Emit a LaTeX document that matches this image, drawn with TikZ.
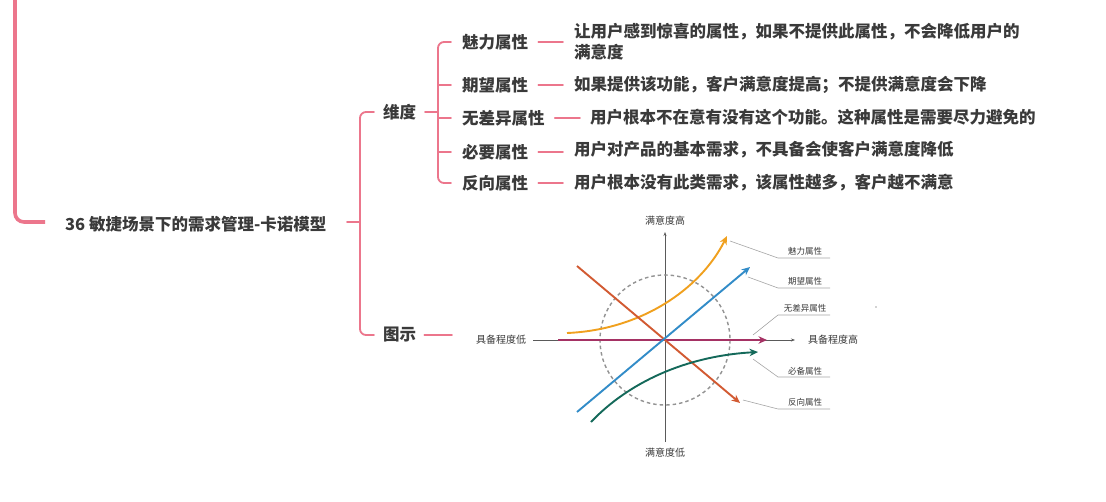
\documentclass[tikz,border=0pt]{standalone}
\usepackage{fontspec}
\setmainfont{Noto Sans CJK SC}
\usetikzlibrary{arrows.meta}
\definecolor{mmpink}{RGB}{236,118,140}
\definecolor{mmtext}{RGB}{58,58,58}
\definecolor{axisgray}{RGB}{90,90,90}
\definecolor{leadgray}{RGB}{165,165,165}
\definecolor{cOrange}{RGB}{240,160,30}
\definecolor{cBlue}{RGB}{50,140,200}
\definecolor{cRed}{RGB}{210,90,50}
\definecolor{cTeal}{RGB}{20,105,90}
\definecolor{cMag}{RGB}{165,50,100}
\tikzset{
  pinkline/.style={draw=mmpink, line width=1.8pt, line cap=round},
  mmlabel/.style={inner sep=0pt, font=\fontsize{16.5}{21}\selectfont\bfseries, text=mmtext, anchor=west, align=left},
  dlabel/.style={inner sep=0pt, font=\fontsize{10}{12}\selectfont, text=mmtext},
  slabel/.style={inner sep=0pt, font=\fontsize{8.5}{10}\selectfont, text=mmtext},
  axisline/.style={draw=axisgray, line width=0.7pt, -{Stealth[length=4pt,width=3pt]}},
  curvearrow/.style={line width=1.9pt, -{Stealth[length=8.5pt,width=7.5pt]}},
  leader/.style={draw=leadgray, line width=0.6pt},
}
\begin{document}
\begin{tikzpicture}[x=1pt,y=-1pt]
\useasboundingbox[fill=white] (0,0) rectangle (1106,501);

% root
\coordinate (ltop) at (15,-3);
\coordinate (lend) at (45,222);
\node[mmlabel] (root) at (65,224) {36 敏捷场景下的需求管理-卡诺模型};
\draw[draw=mmpink, line width=3.6pt, rounded corners=9pt] (ltop) |- (lend);

% level 1
\node[mmlabel] (dim) at (383,112) {维度};
\node[mmlabel] (fig) at (383,335) {图示};
\coordinate (rootout) at (347,222);
\coordinate (b1x) at (360,222);
\draw[pinkline] (rootout) -- (b1x);
\draw[pinkline, rounded corners=6pt] (374,112) -- (360,112) -- (360,335) -- (374,335);

% level 2
\coordinate (dimout) at (425,112);
\coordinate (b2x) at (438,112);
\draw[pinkline] (dimout) -- (b2x);
\draw[pinkline, rounded corners=6pt] (451,42) -- (438,42) -- (438,183) -- (451,183);
\draw[pinkline] (438,85) -- (451,85);
\draw[pinkline] (438,118) -- (451,118);
\draw[pinkline] (438,152) -- (451,152);

\node[mmlabel] (a1) at (462,42) {魅力属性};
\node[mmlabel] (a2) at (462,85) {期望属性};
\node[mmlabel] (a3) at (462,118) {无差异属性};
\node[mmlabel] (a4) at (462,152) {必要属性};
\node[mmlabel] (a5) at (462,183) {反向属性};

\node[mmlabel] (d1) at (574,41.5) {让用户感到惊喜的属性，如果不提供此属性，不会降低用户的\\满意度};
\node[mmlabel] (d2) at (574,85) {如果提供该功能，客户满意度提高；不提供满意度会下降};
\node[mmlabel] (d3) at (590,117) {用户根本不在意有没有这个功能。这种属性是需要尽力避免的};
\node[mmlabel] (d4) at (574,150) {用户对产品的基本需求，不具备会使客户满意度降低};
\node[mmlabel] (d5) at (574,183) {用户根本没有此类需求，该属性越多，客户越不满意};

\draw[pinkline] ([xshift=10pt]a1.east |- a1.center) -- ([xshift=-11pt]d1.west |- a1.center);
\draw[pinkline] ([xshift=10pt]a2.east) -- ([xshift=-11pt]d2.west |- a2.center);
\draw[pinkline] ([xshift=10pt]a3.east) -- ([xshift=-10pt]d3.west |- a3.center);
\draw[pinkline] ([xshift=10pt]a4.east |- a4.center) -- ([xshift=-11pt]d4.west |- a4.center);
\draw[pinkline] ([xshift=10pt]a5.east) -- ([xshift=-11pt]d5.west |- a5.center);

\draw[pinkline] ([xshift=8pt]fig.east) -- (452,335);

% Kano diagram
\coordinate (O) at (665,340);
\node[dlabel] (xlow) at (501,340) {具备程度低};
\node[dlabel] (xhigh) at (833,340) {具备程度高};
\node[dlabel] (yhigh) at (665,221) {满意度高};
\node[dlabel] (ylow) at (665,453) {满意度低};
\draw[axisline] (533,340) -- (795,340);
\draw[axisline] (665,442) -- (665,232);
\draw[draw=gray!85, line width=1.4pt, dash pattern=on 3.5pt off 3pt] (O) circle[radius=65];

\coordinate (mS) at (558,340); \coordinate (mE) at (767,340);
\coordinate (oS) at (567,333); \coordinate (oE) at (727,236);
\coordinate (bS) at (577,412); \coordinate (bE) at (750,267);
\coordinate (rS) at (577,266); \coordinate (rE) at (740,403);
\coordinate (tS) at (591,422); \coordinate (tE) at (758,352);

\draw[curvearrow, cOrange] (oS) .. controls (640,330) and (700,290) .. (oE);
\draw[curvearrow, cMag] (mS) -- (mE);
\draw[curvearrow, cRed] (rS) -- (rE);
\draw[curvearrow, cBlue] (bS) -- (bE);
\draw[curvearrow, cTeal] (tS) .. controls (628,383) and (685,356) .. (tE);

\node[slabel] (k1) at (805,251) {魅力属性};
\node[slabel] (k2) at (805,281) {期望属性};
\node[slabel] (k3) at (805,308) {无差异属性};
\node[slabel] (k4) at (805,371) {必备属性};
\node[slabel] (k5) at (805,402) {反向属性};

\draw[leader] (730,241) -- (778,258) -- (830,258);
\draw[leader] (748,277) -- (778,288) -- (830,288);
\draw[leader] (753,335) -- (778,315) -- (830,315);
\draw[leader] (753,359) -- (778,377) -- (830,377);
\draw[leader] (743,400) -- (778,409) -- (830,409);

\fill[gray!70] (876,307) circle[radius=0.8];
\end{tikzpicture}
\end{document}
